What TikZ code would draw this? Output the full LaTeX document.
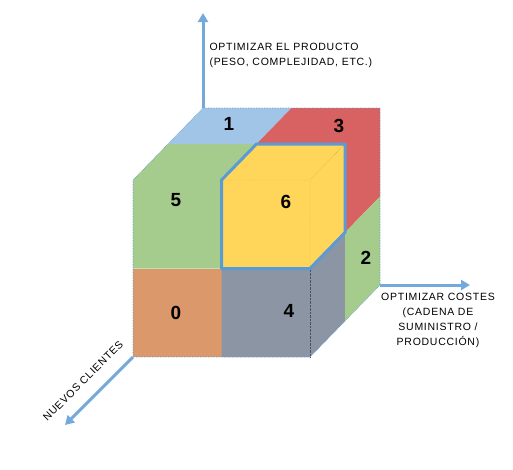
\documentclass[tikz,border=0pt]{standalone}
\usepackage{fontspec}
\setmainfont{Liberation Sans}
\newfontfamily\axisfont[LetterSpace=7]{Liberation Sans}
\usetikzlibrary{arrows.meta}
\definecolor{axisblue}{HTML}{5B9BD5}
\definecolor{cellgreen}{HTML}{70AD47}
\definecolor{cellred}{HTML}{C00000}
\definecolor{cellyellow}{HTML}{FFC000}
\definecolor{cellorange}{HTML}{C55A11}
\definecolor{cellslate}{HTML}{44546A}

\begin{document}
\begin{tikzpicture}[x=1pt, y=-1pt, >={Triangle[length=9pt,width=10pt]},
    axis/.style={->, line width=3pt, axisblue!85},
    num/.style={font=\fontsize{19}{19}\selectfont\bfseries},
    lbl/.style={font=\axisfont\fontsize{10.5}{15}\selectfont}]
  \useasboundingbox (0,0) rectangle (513,469);
  \begin{scope}[shift={(133,357)}, x={(88.5pt,0pt)}, y={(0pt,88.5pt)}, z={(35pt,36pt)}]
    \coordinate (front) at (0,0,0);
    \coordinate (topback) at (0,2,2);
    \coordinate (rightback) at (2,0,2);
    % cells
    \fill[cellorange!62!white] (0,0,0) -- (1,0,0) -- (1,1,0) -- (0,1,0) -- cycle;
    \fill[cellgreen!62!white] (0,1,0) -- (1,1,0) -- (1,2,0) -- (1,2,1) -- (0,2,1) -- (0,2,0) -- cycle;
    \fill[axisblue!58!white] (0,2,1) -- (1,2,1) -- (1,2,2) -- (0,2,2) -- cycle;
    \fill[cellred!62!white] (1,2,1) -- (1,2,2) -- (2,2,2) -- (2,1,2) -- (2,1,1) -- (2,2,1) -- cycle;
    \fill[cellslate!62!white] (1,0,0) -- (2,0,0) -- (2,0,1) -- (2,1,1) -- (2,1,0) -- (1,1,0) -- cycle;
    \fill[cellgreen!62!white] (2,0,1) -- (2,0,2) -- (2,1,2) -- (2,1,1) -- cycle;
    \fill[cellyellow!65!white] (1,1,0) -- (1,2,0) -- (1,2,1) -- (2,2,1) -- (2,1,1) -- (2,1,0) -- cycle;
    % hidden edges
    \draw[densely dotted, cellslate] (2,0,0) -- (2,1,0);
    \draw[densely dotted, cellyellow!80!black] (1,2,0) -- (2,2,0) -- (2,1,0) (2,2,0) -- (2,2,1);
    \draw[densely dotted, axisblue, line width=0.6pt] (0,0,0) -- (2,0,0) -- (2,0,2) -- (2,2,2) -- (0,2,2) -- (0,2,0) -- cycle;
    \draw[line width=3pt, axisblue, line join=round] (1,1,0) -- (1,2,0) -- (1,2,1) -- (2,2,1) -- (2,1,1) -- (2,1,0) -- cycle;
  \end{scope}

  \coordinate (uptip) at (203,13);
  \coordinate (righttip) at (470,285);
  \coordinate (downtip) at (65,425);
  \draw[axis] (topback) -- (uptip);
  \draw[axis] (rightback) -- (righttip);
  \draw[axis] (front) -- (downtip);

  \node[num] (c0) at (176,313) {0};
  \node[num] (c1) at (229,124) {1};
  \node[num] (c2) at (366,258) {2};
  \node[num] (c3) at (339,126) {3};
  \node[num] (c4) at (289,311) {4};
  \node[num] (c5) at (176,200) {5};
  \node[num] (c6) at (286,202) {6};

  \node[lbl, align=left, anchor=west] (producto) at (206,55) {OPTIMIZAR EL PRODUCTO\\(PESO, COMPLEJIDAD, ETC.)};
  \node[lbl, align=center] (costes) at (438,320) {OPTIMIZAR COSTES\\(CADENA DE\\SUMINISTRO /\\PRODUCCIÓN)};
  \node[lbl, rotate=45] (clientes) at (83,381) {NUEVOS CLIENTES};
\end{tikzpicture}
\end{document}
